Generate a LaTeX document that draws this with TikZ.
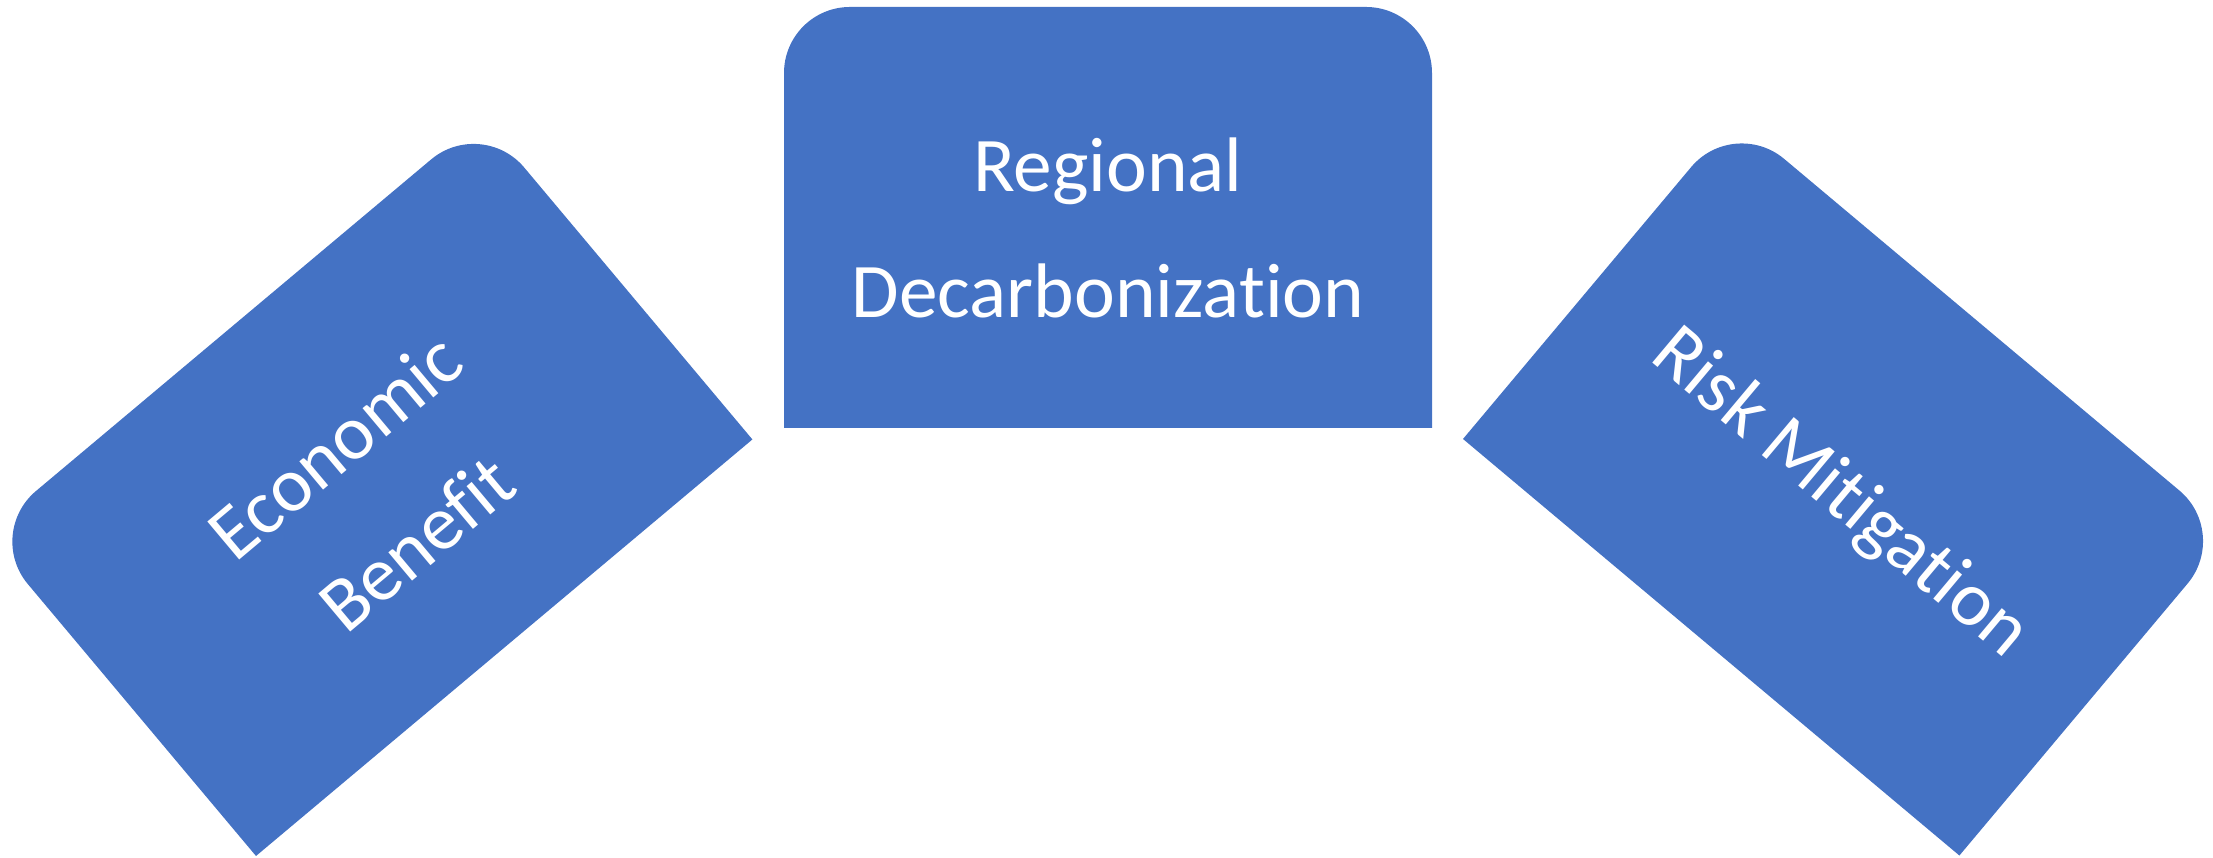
\documentclass[tikz,border=0pt]{standalone}
\usepackage{fontspec}
\setmainfont{Carlito}[Ligatures={NoCommon,NoRare,NoContextual}]
\definecolor{azul}{HTML}{4472C4}
\newcommand{\bloque}[4]{
	\begin{scope}[shift={#1},rotate=#2]
		\fill[azul] (0,0) -- (6.48,0) -- (6.48,3.55) arc[start angle=0,end angle=90,radius=0.66] -- (0.66,4.21) arc[start angle=90,end angle=180,radius=0.66] -- cycle;
		\node[texto] (#3) at (3.24,2.0) {#4};
	\end{scope}
}

\begin{document}
\begin{tikzpicture}[texto/.style={text=white,align=center,transform shape,font=\fontsize{22}{36}\selectfont}]
				\useasboundingbox (0,0) rectangle (22.13,8.58);
				\bloque{(7.84,4.30)}{0}{regional}{Regional\\Decarbonization}
				\bloque{(2.56,0.02)}{40}{economico}{Economic\\Benefit}
				\bloque{(14.63,4.19)}{-40}{riesgo}{Risk Mitigation}
			\end{tikzpicture}
\end{document}
